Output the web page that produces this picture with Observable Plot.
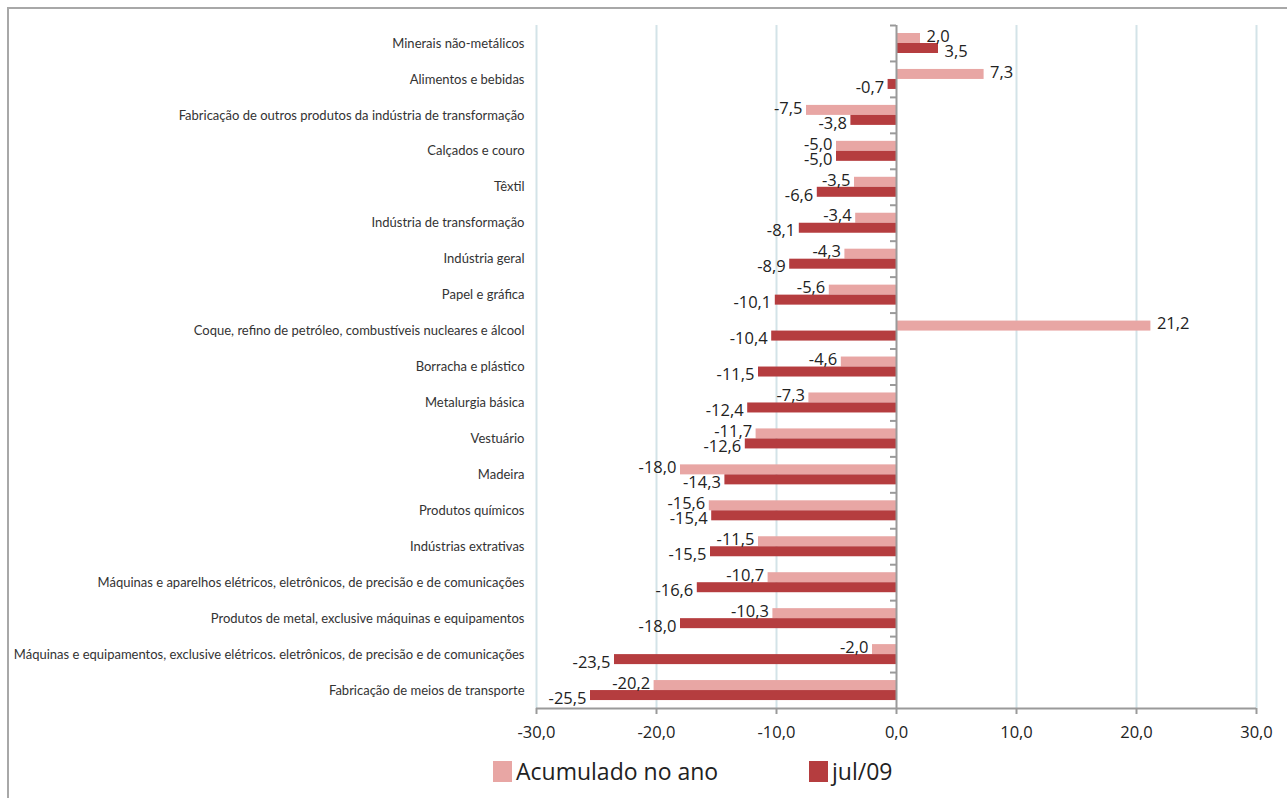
<!DOCTYPE html>
<html>
<head>
<meta charset="utf-8">
<script src="https://cdn.jsdelivr.net/npm/d3@7"></script>
<script src="https://cdn.jsdelivr.net/npm/@observablehq/plot@0.6"></script>
<style>
  html, body { margin: 0; padding: 0; background: #fff; }
  body { width: 1287px; height: 798px; position: relative; overflow: hidden; font-family: Lato, "Open Sans", sans-serif; }
  #frame { position: absolute; left: 7px; top: 7px; width: 1300px; height: 820px; border-left: 2px solid #a8a8a8; border-top: 2px solid #a8a8a8; box-sizing: border-box; }
  #chart { position: absolute; left: 0; top: 0; }
  #legend { position: absolute; top: 757px; left: 0; width: 1287px; height: 30px; font-family: "Open Sans", Lato, sans-serif; font-size: 23px; color: #222; }
  .item { position: absolute; top: 0; display: flex; align-items: center; height: 28px; }
  .sw { width: 19px; height: 21px; margin-right: 4px; }
</style>
</head>
<body>
<div id="frame"></div>
<div id="chart"></div>
<div id="legend">
  <div class="item" style="left:493px"><div class="sw" style="background:#e8a6a4"></div><span>Acumulado no ano</span></div>
  <div class="item" style="left:809px"><div class="sw" style="background:#b53d3f"></div><span>jul/09</span></div>
</div>
<script>
const categories = [
  "Minerais não-metálicos",
  "Alimentos e bebidas",
  "Fabricação de outros produtos da indústria de transformação",
  "Calçados e couro",
  "Têxtil",
  "Indústria de transformação",
  "Indústria geral",
  "Papel e gráfica",
  "Coque, refino de petróleo, combustíveis nucleares e álcool",
  "Borracha e plástico",
  "Metalurgia básica",
  "Vestuário",
  "Madeira",
  "Produtos químicos",
  "Indústrias extrativas",
  "Máquinas e aparelhos elétricos, eletrônicos, de precisão e de comunicações",
  "Produtos de metal, exclusive máquinas e equipamentos",
  "Máquinas e equipamentos, exclusive elétricos. eletrônicos, de precisão e de comunicações",
  "Fabricação de meios de transporte"
];
const acumuladoNoAno = [2.0, 7.3, -7.5, -5.0, -3.5, -3.4, -4.3, -5.6, 21.2, -4.6, -7.3, -11.7, -18.0, -15.6, -11.5, -10.7, -10.3, -2.0, -20.2];
const jul09 = [3.5, -0.7, -3.8, -5.0, -6.6, -8.1, -8.9, -10.1, -10.4, -11.5, -12.4, -12.6, -14.3, -15.4, -15.5, -16.6, -18.0, -23.5, -25.5];
const xTicks = [-30, -20, -10, 0, 10, 20, 30];

const pinkColor = "#e8a6a4";
const redColor = "#b53d3f";
const fmt = v => v.toFixed(1).replace(".", ",");

const acc = categories.map((c, i) => ({category: c, value: acumuladoNoAno[i]}));
const jul = categories.map((c, i) => ({category: c, value: jul09[i]}));

const band = (708 - 25) / categories.length;

const valueLabels = (data, dy) => [
  Plot.text(data.filter(d => d.value >= 0), {
    x: "value", y: "category", text: d => fmt(d.value), textAnchor: "start",
    dx: 6, dy, fontSize: 16.5, fill: "#222", fontFamily: "'Open Sans', sans-serif"
  }),
  Plot.text(data.filter(d => d.value < 0), {
    x: "value", y: "category", text: d => fmt(d.value), textAnchor: "end",
    dx: -4, dy, fontSize: 16.5, fill: "#222", fontFamily: "'Open Sans', sans-serif"
  })
];

const chart = Plot.plot({
  width: 1287,
  height: 745,
  marginLeft: 536,
  marginRight: 31,
  marginTop: 25,
  marginBottom: 37,
  x: {domain: [-30, 30], ticks: xTicks, tickFormat: fmt, label: null},
  y: {domain: categories, padding: 0, round: false, label: null},
  style: {background: "transparent", overflow: "visible"},
  marks: [
    Plot.ruleX(xTicks.filter(t => t !== 0), {stroke: "#d3e3e8", strokeWidth: 2}),
    Plot.barX(acc, {x: "value", y: "category", fill: pinkColor, insetTop: 8, insetBottom: band - 18}),
    Plot.barX(jul, {x: "value", y: "category", fill: redColor, insetTop: 18, insetBottom: band - 28}),
    ...valueLabels(acc, -7),
    ...valueLabels(jul, 8),
    Plot.ruleX([0], {stroke: "#9a9a9a", strokeWidth: 2}),
    Plot.ruleY(categories, {y: d => d, x1: -0.5, x2: 0, dy: -band/2, stroke: "#9a9a9a", strokeWidth: 2}),
    Plot.ruleY([categories[categories.length - 1]], {y: d => d, x1: -30, x2: 30, dy: band/2, stroke: "#9a9a9a", strokeWidth: 2}),
    Plot.axisX({ticks: xTicks, tickFormat: fmt, tickSize: 6, tickPadding: 12, stroke: "#9a9a9a", strokeWidth: 2, fontSize: 16.5, fill: "#222", fontFamily: "'Open Sans', sans-serif", label: null}),
    Plot.axisY({tickSize: 0, tickPadding: 12, fontSize: 13, fill: "#333", fontFamily: "Lato, sans-serif", label: null})
  ]
});
document.getElementById("chart").appendChild(chart);
</script>
</body>
</html>
